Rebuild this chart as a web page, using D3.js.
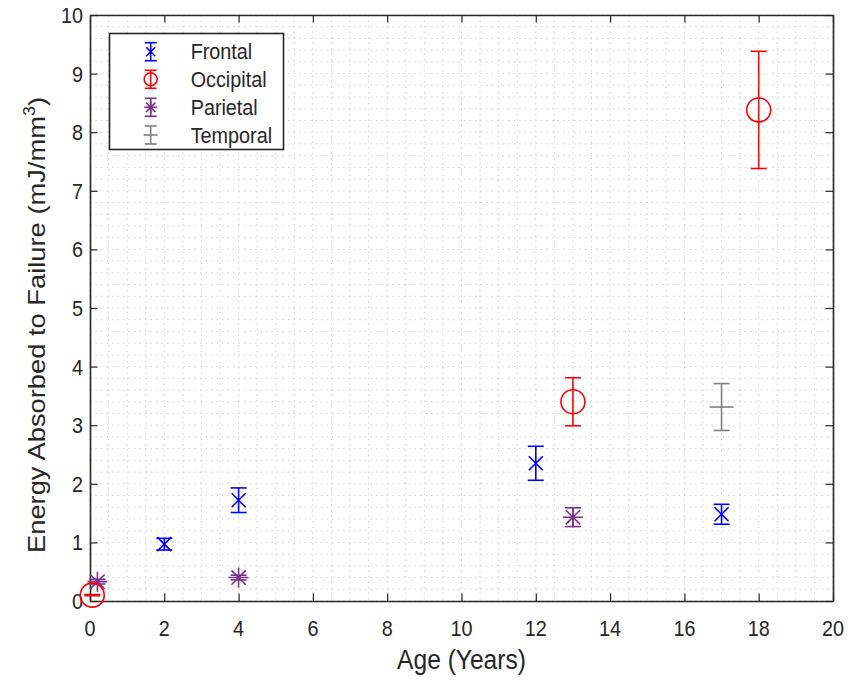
<!DOCTYPE html>
<html>
<head>
<meta charset="utf-8">
<script src="https://cdn.jsdelivr.net/npm/d3@7"></script>
<style>
  html, body { margin: 0; padding: 0; background: #fff; }
  svg { display: block; }
  text { font-family: "Liberation Sans", Arial, Helvetica, sans-serif; fill: #262626; }
</style>
</head>
<body>
<svg id="chart" width="861" height="680"></svg>
<script>
// ---- data ----
const frontalAge = [2, 4, 12, 17];
const frontalMean = [0.97, 1.72, 2.35, 1.48];
const frontalErr = [0.10, 0.21, 0.29, 0.17];

const occipitalAge = [0.06, 13, 18];
const occipitalMean = [0.10, 3.40, 8.38];
const occipitalErr = [0.01, 0.41, 1.00];

const parietalAge = [0.2, 4, 13];
const parietalMean = [0.33, 0.40, 1.43];
const parietalErr = [0.04, 0.04, 0.16];

const temporalAge = [17];
const temporalMean = [3.31];
const temporalErr = [0.40];

const xTicks = [0, 2, 4, 6, 8, 10, 12, 14, 16, 18, 20];
const yTicks = [0, 1, 2, 3, 4, 5, 6, 7, 8, 9, 10];
const seriesNames = ["Frontal", "Occipital", "Parietal", "Temporal"];
const xLabel = "Age (Years)";
const yLabelMain = "Energy Absorbed to Failure (mJ/mm";

// ---- layout ----
const svg = d3.select("#chart");
const L = 90, R = 833, T = 15, B = 601;
const x = d3.scaleLinear().domain([0, 20]).range([L, R]);
const y = d3.scaleLinear().domain([0, 10]).range([B, T]);
const SX = 0.9; // horizontal compression of glyphs

const colors = { Frontal: "#0000ff", Occipital: "#ff0000", Parietal: "#7e2f8e", Temporal: "#808080" };

// grid (minor + major, dotted)
const g = svg.append("g");
const minorX = d3.range(0, 20.001, 0.5);
const minorY = d3.range(0, 10.001, 0.2);
g.selectAll("line.gx").data(minorX).join("line")
  .attr("x1", d => x(d)).attr("x2", d => x(d)).attr("y1", T).attr("y2", B)
  .attr("stroke", "#d2d2d2").attr("stroke-width", 1).attr("stroke-dasharray", "1.5,4");
g.selectAll("line.gy").data(minorY).join("line")
  .attr("y1", d => y(d)).attr("y2", d => y(d)).attr("x1", L).attr("x2", R)
  .attr("stroke", "#d2d2d2").attr("stroke-width", 1).attr("stroke-dasharray", "1.5,4");

// axes with inward ticks
const axB = svg.append("g").attr("transform", `translate(0,${B})`)
  .call(d3.axisBottom(x).tickValues(xTicks).tickSizeInner(-7.5).tickSizeOuter(0).tickFormat(""));
const axT = svg.append("g").attr("transform", `translate(0,${T})`)
  .call(d3.axisTop(x).tickValues(xTicks).tickSizeInner(-7.5).tickSizeOuter(0).tickFormat(""));
const axL = svg.append("g").attr("transform", `translate(${L},0)`)
  .call(d3.axisLeft(y).tickValues(yTicks).tickSizeInner(-7.5).tickSizeOuter(0).tickFormat(""));
const axR = svg.append("g").attr("transform", `translate(${R},0)`)
  .call(d3.axisRight(y).tickValues(yTicks).tickSizeInner(-7.5).tickSizeOuter(0).tickFormat(""));
[axB, axT, axL, axR].forEach(a => {
  a.select(".domain").attr("stroke", "#262626").attr("stroke-width", 1.6);
  a.selectAll(".tick line").attr("stroke", "#262626").attr("stroke-width", 1.2);
});

// tick labels
svg.selectAll("text.xt").data(xTicks).join("text")
  .attr("transform", d => `translate(${x(d)},636) scale(${SX},1)`)
  .attr("text-anchor", "middle").attr("font-size", 22).text(d => d);
svg.selectAll("text.yt").data(yTicks).join("text")
  .attr("transform", d => `translate(83,${y(d) + 8}) scale(${SX},1)`)
  .attr("text-anchor", "end").attr("font-size", 22).text(d => d);

// axis labels
svg.append("text")
  .attr("transform", `translate(${(L + R) / 2},669) scale(${SX},1)`)
  .attr("text-anchor", "middle").attr("font-size", 27.3).text(xLabel);
const yl = svg.append("text")
  .attr("transform", `translate(45,325) rotate(-90) scale(1,${SX})`)
  .attr("text-anchor", "middle").attr("font-size", 27.3);
yl.append("tspan").text(yLabelMain);
yl.append("tspan").attr("dy", -11).attr("font-size", 18).text("3");
yl.append("tspan").attr("dy", 11).text(")");

// ---- marks ----
const CAP = 8;
function errbars(sel, ages, means, errs, color, cap) {
  const data = ages.map((a, i) => ({ a, m: means[i], e: errs[i] }));
  const gg = sel.append("g").attr("stroke", color).attr("stroke-width", 1.6).attr("fill", "none");
  data.forEach(d => {
    const cx = x(d.a);
    gg.append("line").attr("x1", cx).attr("x2", cx).attr("y1", y(d.m - d.e)).attr("y2", y(d.m + d.e));
    gg.append("line").attr("x1", cx - cap).attr("x2", cx + cap).attr("y1", y(d.m - d.e)).attr("y2", y(d.m - d.e));
    gg.append("line").attr("x1", cx - cap).attr("x2", cx + cap).attr("y1", y(d.m + d.e)).attr("y2", y(d.m + d.e));
  });
  return { gg, data };
}
function markerX(gg, cx, cy, s) {
  gg.append("path").attr("d", `M${cx - s},${cy - s}L${cx + s},${cy + s}M${cx - s},${cy + s}L${cx + s},${cy - s}`);
}
function markerStar(gg, cx, cy, s) {
  const d = s * 0.72;
  gg.append("path").attr("d",
    `M${cx - s},${cy}L${cx + s},${cy}M${cx},${cy - s}L${cx},${cy + s}` +
    `M${cx - d},${cy - d}L${cx + d},${cy + d}M${cx - d},${cy + d}L${cx + d},${cy - d}`);
}
function markerCircle(gg, cx, cy, r) {
  gg.append("circle").attr("cx", cx).attr("cy", cy).attr("r", r);
}
function markerHLine(gg, cx, cy, s) {
  gg.append("path").attr("d", `M${cx - s},${cy}L${cx + s},${cy}`);
}

const marks = svg.append("g");
{
  const f = errbars(marks, frontalAge, frontalMean, frontalErr, colors.Frontal, CAP);
  f.data.forEach(d => markerX(f.gg, x(d.a), y(d.m), 7));
  const t = errbars(marks, temporalAge, temporalMean, temporalErr, colors.Temporal, CAP);
  t.data.forEach(d => markerHLine(t.gg, x(d.a), y(d.m), 12));
  const p = errbars(marks, parietalAge, parietalMean, parietalErr, colors.Parietal, CAP);
  p.data.forEach(d => markerStar(p.gg, x(d.a), y(d.m), 10));
  const o = errbars(marks, occipitalAge, occipitalMean, occipitalErr, colors.Occipital, CAP);
  o.data.forEach(d => markerCircle(o.gg, x(d.a), y(d.m), 12));
}

// ---- legend ----
const lg = svg.append("g");
lg.append("rect").attr("x", 109.5).attr("y", 33.5).attr("width", 174).attr("height", 116)
  .attr("fill", "#fff").attr("stroke", "#262626").attr("stroke-width", 1.6);
const rowY = [51.7, 79.3, 107.3, 135];
seriesNames.forEach((name, i) => {
  const cy = rowY[i], cx = 150.7;
  const gg = lg.append("g").attr("stroke", colors[name]).attr("stroke-width", 1.6).attr("fill", "none");
  gg.append("line").attr("x1", cx).attr("x2", cx).attr("y1", cy - 9).attr("y2", cy + 9);
  gg.append("line").attr("x1", cx - 6).attr("x2", cx + 6).attr("y1", cy - 9).attr("y2", cy - 9);
  gg.append("line").attr("x1", cx - 6).attr("x2", cx + 6).attr("y1", cy + 9).attr("y2", cy + 9);
  if (name === "Frontal") markerX(gg, cx, cy, 4.5);
  if (name === "Occipital") markerCircle(gg, cx, cy, 6.5);
  if (name === "Parietal") markerStar(gg, cx, cy, 6.5);
  if (name === "Temporal") markerHLine(gg, cx, cy, 7);
  lg.append("text").attr("transform", `translate(190.7,${cy + 7.5}) scale(${SX},1)`)
    .attr("font-size", 22).text(name);
});
</script>
</body>
</html>
